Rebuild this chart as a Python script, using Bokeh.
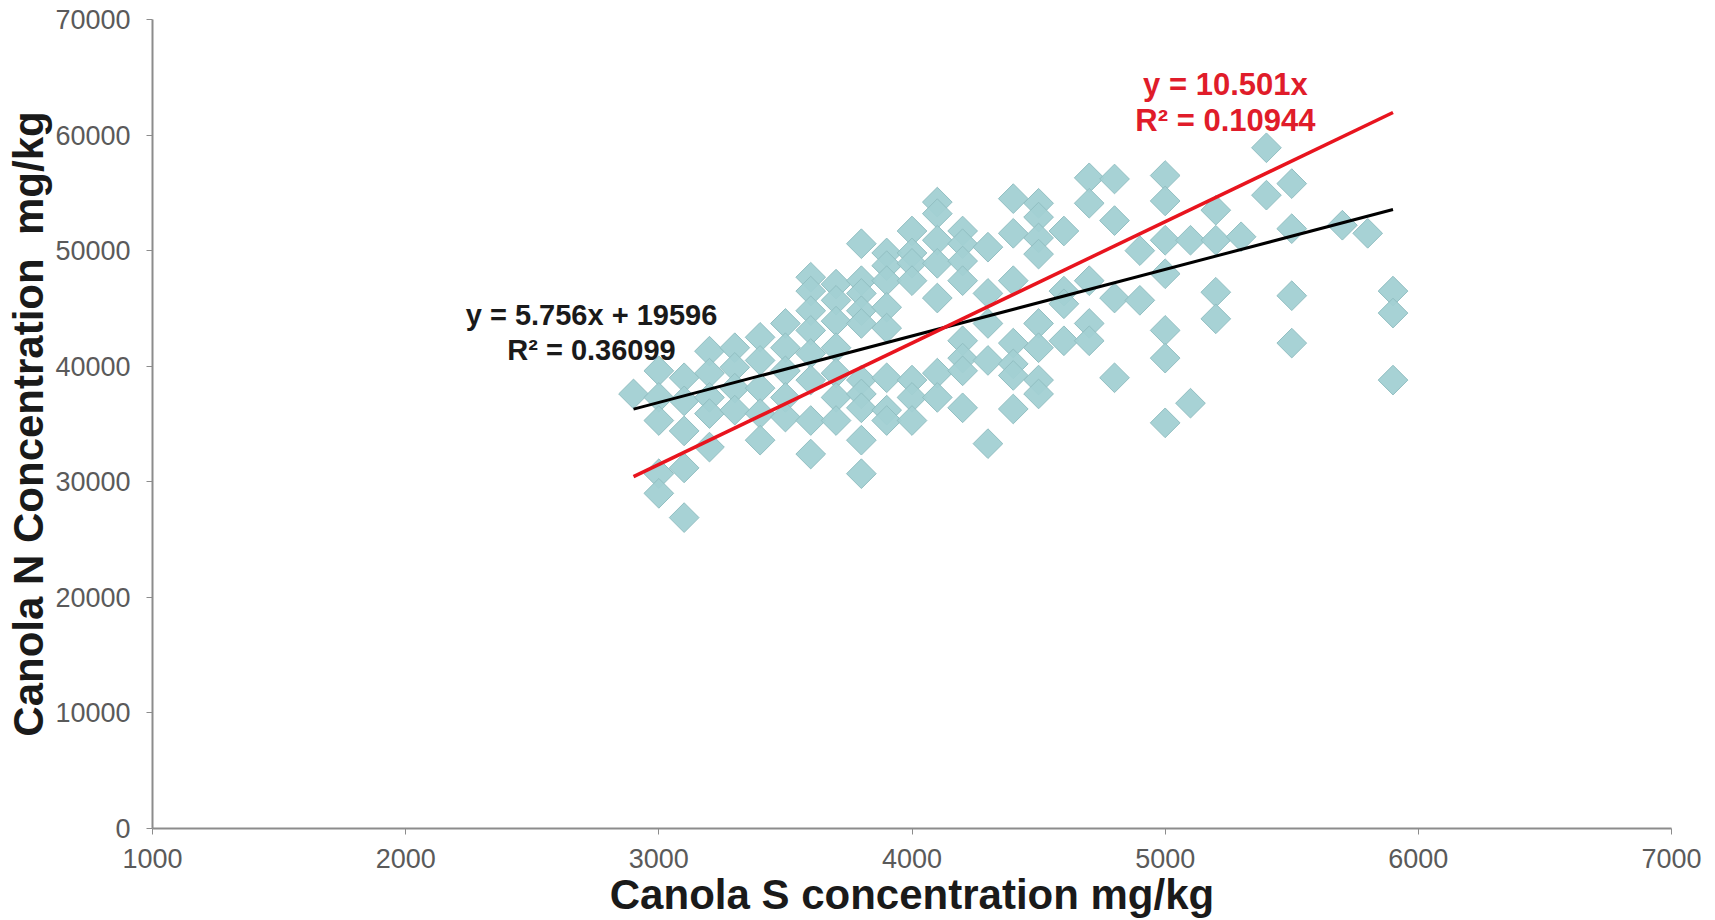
import math
from bokeh.plotting import figure
from bokeh.models import Range1d, FixedTicker, ColumnDataSource, Label
from bokeh.embed import file_html
from bokeh.resources import INLINE

# ---- data ----
s_columns = [2900, 3000, 3100, 3200, 3300, 3400, 3500, 3600, 3700, 3800, 3900,
             4000, 4100, 4200, 4300, 4400, 4500, 4600, 4700, 4800, 4900, 5000,
             5100, 5200, 5300, 5400, 5500, 5700, 5800, 5900]
n_values = [
    [37600],
    [39600, 37300, 35300, 30700, 29000],
    [39000, 37000, 34400, 31200, 26900],
    [41300, 39400, 37300, 35900, 33000],
    [41600, 39900, 38100, 36200],
    [42500, 40500, 38100, 35900, 33600],
    [43700, 41600, 39600, 37300, 35600],
    [47700, 46500, 44800, 43100, 41100, 38800, 35300, 32400],
    [47100, 45700, 43900, 41600, 39400, 37300, 35300],
    [50600, 47400, 46300, 44800, 43700, 38800, 37600, 36400, 33600, 30700],
    [49800, 48700, 47400, 45100, 43300, 39000, 36200, 35300],
    [51700, 49800, 48900, 47400, 38800, 37300, 35300],
    [54200, 53200, 50900, 48900, 45900, 39400, 37300],
    [51700, 50600, 49100, 47400, 42200, 40700, 39600, 36400],
    [50300, 46300, 43700, 40500, 33300],
    [54500, 51500, 47400, 42000, 40200, 39200, 36300],
    [54100, 52900, 51100, 49700, 43700, 41600, 38800, 37600],
    [51700, 46500, 45400, 42200],
    [56300, 54100, 47400, 43700, 42200],
    [56200, 52600, 45900, 39000],
    [50000, 45700],
    [56500, 54300, 50900, 48000, 43100, 40700, 35100],
    [50900, 36800],
    [53500, 50900, 46400, 44100],
    [51200],
    [58900, 54800],
    [55800, 51900, 46100, 42000],
    [52200],
    [51500],
    [46500, 44600, 38800],
]

# trend lines: y = slope*x + intercept
linear_fit = [5.756, 19596]      # black
origin_fit = [10.501, 0]         # red, through origin
fit_x_range = [2900, 5900]

x_ticks = [1000, 2000, 3000, 4000, 5000, 6000, 7000]
y_ticks = [0, 10000, 20000, 30000, 40000, 50000, 60000, 70000]

label_black = ["y = 5.756x + 19596", "R\u00b2 = 0.36099"]
label_red = ["y = 10.501x", "R\u00b2 = 0.10944"]

# ---- build ----
xs, ys = [], []
for sx, col in zip(s_columns, n_values):
    for v in col:
        xs.append(sx)
        ys.append(v)
src = ColumnDataSource(dict(x=xs, y=ys))

FONT = "Liberation Sans"

p = figure(width=1715, height=920, output_backend="svg", toolbar_location=None,
           x_range=Range1d(1000, 7000), y_range=Range1d(0, 70000),
           min_border_left=152, min_border_right=44, min_border_top=19,
           min_border_bottom=92)
p.outline_line_color = None
p.xgrid.visible = False
p.ygrid.visible = False
p.background_fill_color = "white"
p.border_fill_color = "white"

p.scatter("x", "y", source=src, marker="square", size=21, angle=math.pi / 4,
          fill_color="#a2d0d3", line_color="#92bfc2", line_width=1, fill_alpha=0.95)

def fit_line(c):
    return [c[0] * x + c[1] for x in fit_x_range]

p.line(fit_x_range, fit_line(linear_fit), line_color="black", line_width=3)
p.line(fit_x_range, fit_line(origin_fit), line_color="#e8141e", line_width=3.5)

for i, t in enumerate(label_black):
    p.add_layout(Label(x=2734, y=44460 - i * 3050, text=t, text_font=FONT,
                       text_font_style="bold", text_font_size="29px",
                       text_color="#1a1a1a", text_align="center",
                       text_baseline="middle"))
for i, t in enumerate(label_red):
    p.add_layout(Label(x=5238, y=64360 - i * 3100, text=t, text_font=FONT,
                       text_font_style="bold", text_font_size="31px",
                       text_color="#e01c2a", text_align="center",
                       text_baseline="middle"))

for ax, ticks in ((p.xaxis[0], x_ticks), (p.yaxis[0], y_ticks)):
    ax.ticker = FixedTicker(ticks=ticks)
    ax.minor_tick_line_color = None
    ax.major_tick_out = 6
    ax.major_tick_in = 0
    ax.major_tick_line_color = "#8c8c8c"
    ax.axis_line_color = "#8c8c8c"
    ax.axis_line_width = 2
    ax.major_label_text_font = FONT
    ax.major_label_text_font_size = "27px"
    ax.major_label_text_color = "#5a5a5a"
    ax.axis_label_text_font = FONT
    ax.axis_label_text_font_style = "bold"
    ax.axis_label_text_font_size = "42px"
    ax.axis_label_text_color = "#1a1a1a"

p.xaxis[0].axis_label = "Canola S concentration mg/kg"
p.yaxis[0].axis_label = "Canola N Concentration\u00a0 mg/kg"
p.xaxis[0].major_label_standoff = 14
p.xaxis[0].axis_label_standoff = 0
p.yaxis[0].major_label_standoff = 16
p.yaxis[0].axis_label_standoff = 0

open("out.html", "w").write(file_html(p, INLINE))
